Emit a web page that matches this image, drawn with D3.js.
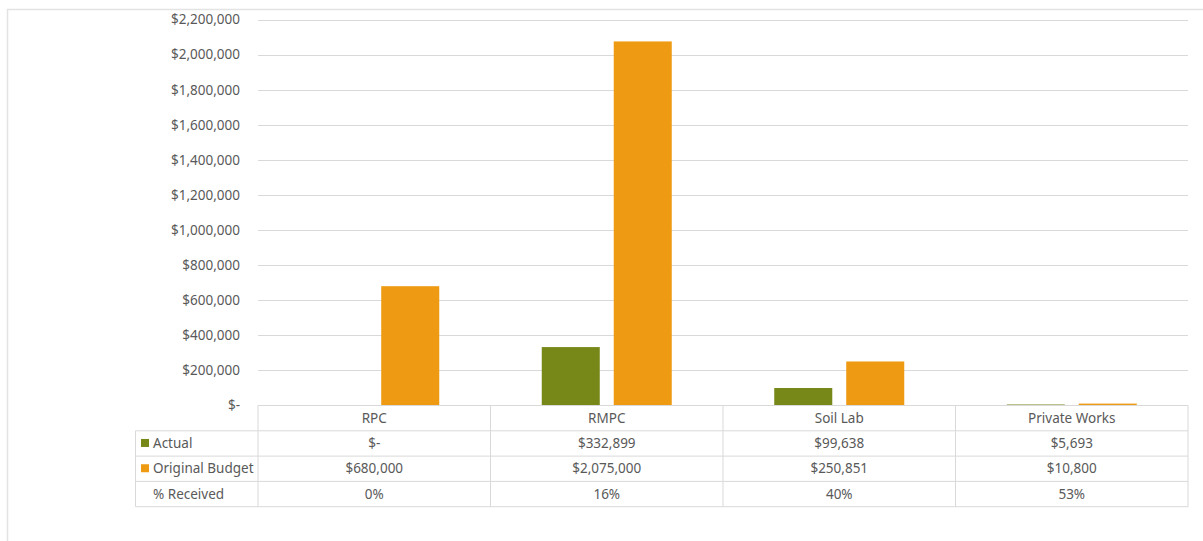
<!DOCTYPE html>
<html>
<head>
<meta charset="utf-8">
<script src="https://cdn.jsdelivr.net/npm/d3@7/dist/d3.min.js"></script>
<style>
  html, body { margin: 0; padding: 0; background: #fff; }
  svg { display: block; font-family: "Noto Sans", sans-serif; }
</style>
</head>
<body>
<svg id="chart" width="1203" height="541"></svg>
<script>
// Revenue by program: actual received vs. original budget
const categories = ["RPC", "RMPC", "Soil Lab", "Private Works"];
const seriesNames = ["Actual", "Original Budget"];
const actual = [0, 332899, 99638, 5693];
const budget = [680000, 2075000, 250851, 10800];
const yTicks = [0, 200000, 400000, 600000, 800000, 1000000, 1200000, 1400000, 1600000, 1800000, 2000000, 2200000];

const colors = { "Actual": "#778718", "Original Budget": "#EE9B13" };
const textColor = "#595959";
const lineColor = "#d9d9d9";
const fontSize = "13.5px";

const svg = d3.select("#chart");
const W = 1203, H = 541;

// plot frame
const plot = { left: 258, right: 1188, top: 19.5, bottom: 405.5 };
const rowH = 25.3;
const tableLeft = 135.5;

// chart-area border
svg.append("path")
  .attr("d", `M7.5,${H} V9.5 H${W}`)
  .attr("fill", "none")
  .attr("stroke", "#e3e3e3")
  .attr("stroke-width", 1.5);

const x0 = d3.scaleBand().domain(categories).range([plot.left, plot.right]).padding(0);
const x1 = d3.scaleBand().domain(seriesNames).range([0, x0.bandwidth()])
  .paddingInner(0.194).paddingOuter(0.712);
const y = d3.scaleLinear().domain([0, 2200000]).range([plot.bottom, plot.top]);

const fmtMoney = v => v === 0 ? "$-" : "$" + d3.format(",")(v);

// gridlines (zero line is the table's top edge)
svg.append("g")
  .selectAll("line")
  .data(yTicks.filter(t => t > 0))
  .join("line")
  .attr("x1", plot.left).attr("x2", plot.right)
  .attr("y1", d => Math.round(y(d)) + 0.5).attr("y2", d => Math.round(y(d)) + 0.5)
  .attr("stroke", lineColor).attr("stroke-width", 1);

// y axis labels
const yAxis = d3.axisLeft(y).tickValues(yTicks).tickFormat(fmtMoney).tickSize(0).tickPadding(18);
const gy = svg.append("g").attr("transform", `translate(${plot.left},0)`).call(yAxis);
gy.select(".domain").remove();
gy.selectAll("text")
  .attr("fill", textColor)
  .style("font-size", fontSize)
  .style("font-family", "'Noto Sans', sans-serif");

// bars
const rows = categories.map((c, i) => ({ cat: c, values: [
  { key: "Actual", value: actual[i] },
  { key: "Original Budget", value: budget[i] }
]}));

svg.append("g")
  .selectAll("g")
  .data(rows)
  .join("g")
  .attr("transform", d => `translate(${x0(d.cat)},0)`)
  .selectAll("rect")
  .data(d => d.values)
  .join("rect")
  .attr("x", d => x1(d.key))
  .attr("width", x1.bandwidth())
  .attr("y", d => y(d.value))
  .attr("height", d => y(0) - y(d.value))
  .attr("fill", d => colors[d.key]);

// data table under the axis
const tbl = svg.append("g");
const t0 = plot.bottom;
const tableRows = [
  { label: "Actual", key: "Actual", cells: actual.map(fmtMoney) },
  { label: "Original Budget", key: "Original Budget", cells: budget.map(fmtMoney) },
  { label: "% Received", key: null, cells: actual.map((a, i) => d3.format(".0%")(a / budget[i])) }
];

// horizontal lines
tbl.append("line").attr("x1", plot.left).attr("x2", plot.right)
  .attr("y1", t0).attr("y2", t0).attr("stroke", lineColor);
for (let r = 1; r <= tableRows.length + 1; r++) {
  const yy = t0 + r * rowH;
  tbl.append("line").attr("x1", tableLeft).attr("x2", plot.right)
    .attr("y1", yy).attr("y2", yy).attr("stroke", lineColor);
}
// vertical lines
tbl.append("line").attr("x1", tableLeft).attr("x2", tableLeft)
  .attr("y1", t0 + rowH).attr("y2", t0 + 4 * rowH).attr("stroke", lineColor);
categories.forEach(c => {
  const xx = x0(c);
  tbl.append("line").attr("x1", xx).attr("x2", xx)
    .attr("y1", t0).attr("y2", t0 + 4 * rowH).attr("stroke", lineColor);
});
tbl.append("line").attr("x1", plot.right).attr("x2", plot.right)
  .attr("y1", t0).attr("y2", t0 + 4 * rowH).attr("stroke", lineColor);

const txt = (g, xx, yy, s, anchor) => g.append("text")
  .attr("x", xx).attr("y", yy).attr("text-anchor", anchor)
  .attr("dominant-baseline", "central")
  .attr("fill", textColor).style("font-size", fontSize).text(s);

// category header row
categories.forEach(c => txt(tbl, x0(c) + x0.bandwidth() / 2, t0 + rowH / 2, c, "middle"));

// series rows
tableRows.forEach((row, r) => {
  const cy = t0 + (r + 1) * rowH + rowH / 2 - 0.5;
  if (row.key) {
    tbl.append("rect").attr("x", 141).attr("y", cy - 4).attr("width", 8).attr("height", 8)
      .attr("fill", colors[row.key]);
  }
  txt(tbl, 153, cy, row.label, "start");
  row.cells.forEach((v, i) => txt(tbl, x0(categories[i]) + x0.bandwidth() / 2, cy, v, "middle"));
});
</script>
</body>
</html>
